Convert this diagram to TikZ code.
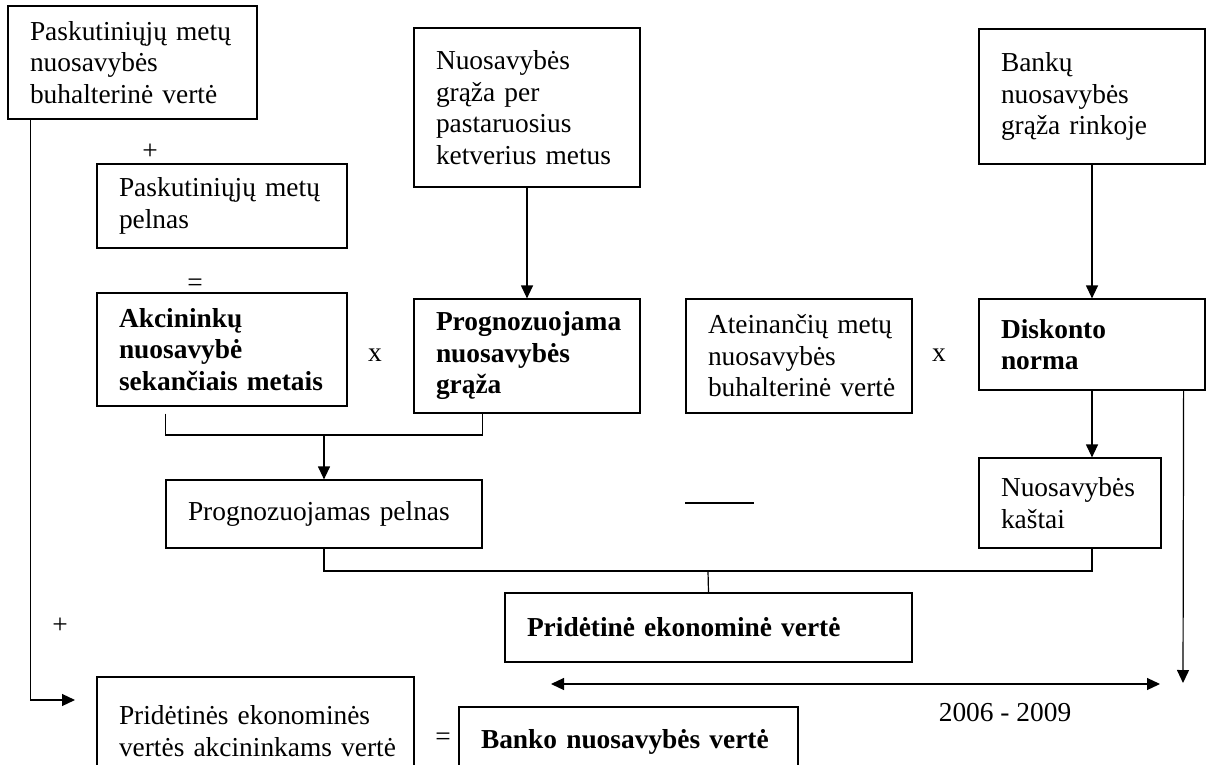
\documentclass[tikz,border=0pt]{standalone}
\usepackage{fontspec}
\setmainfont{Liberation Serif}
\usetikzlibrary{arrows.meta}

\begin{document}
\fontsize{27.4}{31.5}\selectfont
\begin{tikzpicture}[x=1pt,y=-1pt,line width=1.2pt,
    >={Triangle[length=13pt,width=12pt]},
    blokas/.style={draw,inner xsep=22pt,inner ysep=0pt,align=left},
    zenklas/.style={inner sep=0pt}]
   \useasboundingbox (0,0) rectangle (1207,765);
   \clip (0,0) rectangle (1207,765);

   % kairysis stulpelis
   \node[blokas,text width=205pt,minimum height=113pt] (paskNuos) at (132.5,62.5)
     {Paskutiniųjų~metų\\nuosavybės\\buhalterinė~vertė};
   \node[zenklas] (pl1) at (150,152) {+};
   \node[blokas,text width=206pt,minimum height=84pt] (paskPelnas) at (222,206)
     {Paskutiniųjų~metų\\pelnas};
   \node[zenklas] (lyg1) at (195,285) {=};
   \node[blokas,text width=206pt,minimum height=113pt,font=\bfseries] (akcNuos) at (222,349.5)
     {Akcininkų\\nuosavybė\\sekančiais~metais};
   \node[zenklas] (kart1) at (375,355) {x};

   % vidurys
   \node[blokas,text width=182pt,minimum height=159pt] (grazaKetv) at (527,107.5)
     {Nuosavybės\\grąža~per\\pastaruosius\\ketverius~metus};
   \node[blokas,text width=182pt,minimum height=114pt,font=\bfseries] (progGraza) at (527,356)
     {Prognozuojama\\nuosavybės\\grąža};
   \node[blokas,text width=182pt,minimum height=114pt] (ateinNuos) at (799,356)
     {Ateinančių~metų\\nuosavybės\\buhalterinė~vertė};
   \node[zenklas] (kart2) at (939,355) {x};

   % desinysis stulpelis
   \node[blokas,text width=182pt,minimum height=135pt] (bankuGraza) at (1092,96.5)
     {Bankų\\nuosavybės\\grąža~rinkoje};
   \node[blokas,text width=182pt,minimum height=91pt,font=\bfseries] (diskontas) at (1092,344.5)
     {Diskonto\\norma};
   \node[blokas,text width=138pt,minimum height=90pt] (kastai) at (1070,503)
     {Nuosavybės\\kaštai};

   % apacia
   \node[blokas,text width=272pt,minimum height=68pt] (progPelnas) at (324,514)
     {Prognozuojamas~pelnas};
   \node[zenklas] (minusas) at (719.5,503) {\rule{69pt}{1.2pt}};
   \node[blokas,text width=363pt,minimum height=69pt,font=\bfseries] (pev) at (708.5,627.5)
     {Pridėtinė~ekonominė~vertė};
   \node[zenklas] (pl2) at (60,626) {+};
   \node[blokas,text width=273pt,minimum height=108pt] (pevAkc) at (255.5,731)
     {Pridėtinės~ekonominės\\vertės~akcininkams~vertė};
   \node[zenklas] (lyg2) at (443,739) {=};
   \node[blokas,text width=295pt,minimum height=70pt,font=\bfseries] (banko) at (628.5,742)
     {Banko~nuosavybės~vertė};
   \node (metai) at (1005,713) {2006 - 2009};

   \coordinate (sand1) at (324,435);
   \coordinate (sand2) at (708,571);
   \coordinate (pliusGalas) at (75,700);
   \coordinate (normaGalas) at (1183,683);
   \coordinate (laikasA) at (551,684);
   \coordinate (laikasB) at (1160,684);

   % jungtys
   \draw[->] ([xshift=23pt]paskNuos.south west) |- (pliusGalas);
   \draw[->] (grazaKetv.south) -- (progGraza.north);
   \draw[->] (bankuGraza.south) -- (diskontas.north);
   \draw[->] (diskontas.south) -- (diskontas.south |- kastai.north);
   \draw[->] ([xshift=-22pt]diskontas.south east) -- (normaGalas);
   \draw ([yshift=-7pt]akcNuos.south -| progPelnas.west) |- (sand1)
     -| (progGraza.south -| progPelnas.east);
   \draw[->] (sand1) -- (progPelnas.north);
   \draw (progPelnas.south) |- (sand2) -| (kastai.south -| diskontas.south);
   \draw (sand2) -- (pev.north);
   \draw[<->] (laikasA) -- (laikasB);

 \end{tikzpicture}
\end{document}
